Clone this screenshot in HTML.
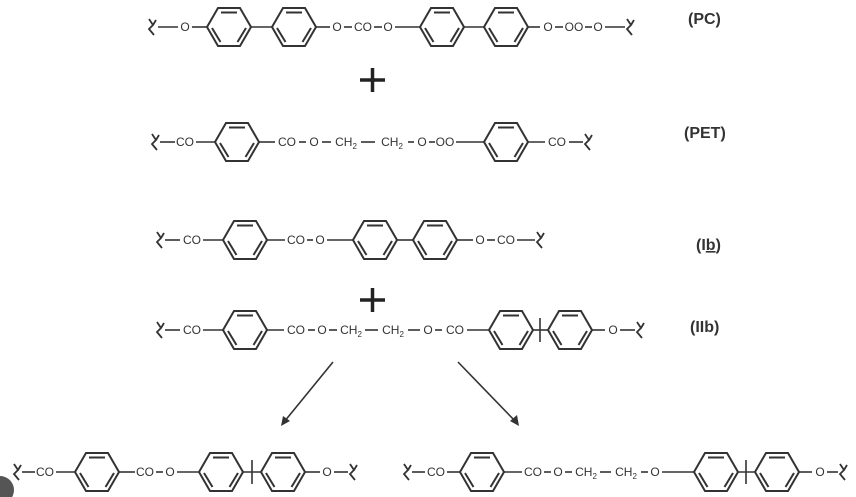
<!DOCTYPE html>
<html><head><meta charset="utf-8"><style>
html,body{margin:0;padding:0;background:#fff;}
svg{display:block;}
text{font-family:"Liberation Sans",sans-serif;fill:#333;}
.t{font-size:12px;text-anchor:middle;}
.l{font-size:16px;font-weight:bold;}
</style></head><body>
<svg width="856" height="497" viewBox="0 0 856 497" xmlns="http://www.w3.org/2000/svg">
<defs>
<g id="r" fill="none" stroke="#333" stroke-width="2">
<polygon points="-22,0 -11,-19 11,-19 22,0 11,19 -11,19"/>
<line x1="-8" y1="-14.5" x2="8" y2="-14.5"/>
<line x1="-17" y1="1" x2="-8.5" y2="15"/>
<line x1="17" y1="1" x2="8.5" y2="15"/>
</g>
<path id="s" d="M-3,-8 L1,-2 L-3,2 L2,8 M1,-2 L4,-7" fill="none" stroke="#333" stroke-width="1.8"/>
</defs>
<g stroke="#333" stroke-width="1.6">
<!-- PC y=27 -->
<line x1="158" y1="27" x2="178" y2="27"/><line x1="192" y1="27" x2="207" y2="27"/>
<line x1="251" y1="27" x2="273" y2="27"/><line x1="315" y1="27" x2="330" y2="27"/>
<line x1="344" y1="27" x2="352" y2="27"/><line x1="374" y1="27" x2="382" y2="27"/>
<line x1="395" y1="27" x2="420" y2="27"/><line x1="464" y1="27" x2="484" y2="27"/>
<line x1="528" y1="27" x2="540" y2="27"/><line x1="555" y1="27" x2="563" y2="27"/>
<line x1="585" y1="27" x2="592" y2="27"/><line x1="605" y1="27" x2="625" y2="27"/>
<!-- PET y=142 -->
<line x1="160" y1="142" x2="175" y2="142"/><line x1="196" y1="142" x2="215" y2="142"/>
<line x1="259" y1="142" x2="275" y2="142"/><line x1="299" y1="142" x2="306" y2="142"/>
<line x1="322" y1="142" x2="331" y2="142"/><line x1="361" y1="142" x2="375" y2="142"/>
<line x1="408" y1="142" x2="414" y2="142"/><line x1="429" y1="142" x2="435" y2="142"/>
<line x1="456" y1="142" x2="484" y2="142"/><line x1="528" y1="142" x2="545" y2="142"/>
<line x1="569" y1="142" x2="583" y2="142"/>
<!-- Ib y=240 -->
<line x1="165" y1="240" x2="180" y2="240"/><line x1="203" y1="240" x2="223" y2="240"/>
<line x1="267" y1="240" x2="285" y2="240"/><line x1="307" y1="240" x2="313" y2="240"/>
<line x1="327" y1="240" x2="353" y2="240"/><line x1="397" y1="240" x2="413" y2="240"/>
<line x1="457" y1="240" x2="473" y2="240"/><line x1="487" y1="240" x2="495" y2="240"/>
<line x1="517" y1="240" x2="535" y2="240"/>
<!-- IIb y=330 -->
<line x1="165" y1="330" x2="180" y2="330"/><line x1="203" y1="330" x2="223" y2="330"/>
<line x1="267" y1="330" x2="284" y2="330"/><line x1="308" y1="330" x2="315" y2="330"/>
<line x1="329" y1="330" x2="337" y2="330"/><line x1="365" y1="330" x2="378" y2="330"/>
<line x1="408" y1="330" x2="420" y2="330"/><line x1="435" y1="330" x2="442" y2="330"/>
<line x1="467" y1="330" x2="489" y2="330"/><line x1="533" y1="330" x2="548" y2="330"/>
<line x1="540" y1="318" x2="540" y2="342"/>
<line x1="592" y1="330" x2="605" y2="330"/><line x1="620" y1="330" x2="635" y2="330"/>
<!-- bottom left y=472 -->
<line x1="22" y1="472" x2="35" y2="472"/><line x1="56" y1="472" x2="75" y2="472"/>
<line x1="119" y1="472" x2="135" y2="472"/><line x1="156" y1="472" x2="163" y2="472"/>
<line x1="177" y1="472" x2="199" y2="472"/><line x1="243" y1="472" x2="261" y2="472"/>
<line x1="252" y1="460" x2="252" y2="484"/>
<line x1="305" y1="472" x2="320" y2="472"/><line x1="334" y1="472" x2="348" y2="472"/>
<!-- bottom right -->
<line x1="412" y1="472" x2="425" y2="472"/><line x1="447" y1="472" x2="460" y2="472"/>
<line x1="504" y1="472" x2="522" y2="472"/><line x1="544" y1="472" x2="551" y2="472"/>
<line x1="565" y1="472" x2="572" y2="472"/><line x1="600" y1="472" x2="611" y2="472"/>
<line x1="641" y1="472" x2="648" y2="472"/><line x1="662" y1="472" x2="694" y2="472"/>
<line x1="738" y1="472" x2="755" y2="472"/><line x1="746" y1="460" x2="746" y2="484"/>
<line x1="799" y1="472" x2="812" y2="472"/><line x1="827" y1="472" x2="838" y2="472"/>
<!-- arrows -->
<line x1="333" y1="362" x2="284" y2="422"/>
<line x1="458" y1="362" x2="516" y2="422"/>
</g>
<polygon points="281,426 283,416 290,421" fill="#333"/>
<polygon points="519,426 510,421 517,415" fill="#333"/>
<!-- rings -->
<use href="#r" x="229" y="27"/><use href="#r" x="294" y="27"/>
<use href="#r" x="442" y="27"/><use href="#r" x="506" y="27"/>
<use href="#r" x="237" y="142"/><use href="#r" x="506" y="142"/>
<use href="#r" x="245" y="240"/><use href="#r" x="375" y="240"/><use href="#r" x="435" y="240"/>
<use href="#r" x="245" y="330"/><use href="#r" x="511" y="330"/><use href="#r" x="570" y="330"/>
<use href="#r" x="97" y="472"/><use href="#r" x="221" y="472"/><use href="#r" x="283" y="472"/>
<use href="#r" x="482" y="472"/><use href="#r" x="716" y="472"/><use href="#r" x="777" y="472"/>
<!-- squiggles -->
<use href="#s" x="152" y="27"/><use href="#s" x="630" y="27"/>
<use href="#s" x="155" y="142"/><use href="#s" x="588" y="142"/>
<use href="#s" x="160" y="240"/><use href="#s" x="540" y="240"/>
<use href="#s" x="160" y="330"/><use href="#s" x="640" y="330"/>
<use href="#s" x="17" y="472"/><use href="#s" x="353" y="472"/>
<use href="#s" x="407" y="472"/><use href="#s" x="843" y="472"/>
<!-- texts -->
<g class="t">
<text x="185" y="31">O</text><text x="337" y="31">O</text><text x="363" y="31">CO</text>
<text x="388" y="31">O</text><text x="548" y="31">O</text><text x="574" y="31">OO</text><text x="598" y="31">O</text>
<text x="185" y="146">CO</text><text x="287" y="146">CO</text><text x="314" y="146">O</text>
<text x="346" y="146">CH<tspan font-size="8" dy="3">2</tspan></text>
<text x="392" y="146">CH<tspan font-size="8" dy="3">2</tspan></text>
<text x="422" y="146">O</text><text x="445" y="146">OO</text><text x="557" y="146">CO</text>
<text x="192" y="244">CO</text><text x="296" y="244">CO</text><text x="320" y="244">O</text>
<text x="480" y="244">O</text><text x="506" y="244">CO</text>
<text x="192" y="334">CO</text><text x="296" y="334">CO</text><text x="322" y="334">O</text>
<text x="351" y="334">CH<tspan font-size="8" dy="3">2</tspan></text>
<text x="393" y="334">CH<tspan font-size="8" dy="3">2</tspan></text>
<text x="428" y="334">O</text><text x="455" y="334">CO</text><text x="613" y="334">O</text>
<text x="45" y="476">CO</text><text x="145" y="476">CO</text><text x="170" y="476">O</text><text x="327" y="476">O</text>
<text x="436" y="476">CO</text><text x="533" y="476">CO</text><text x="558" y="476">O</text>
<text x="586" y="476">CH<tspan font-size="8" dy="3">2</tspan></text>
<text x="626" y="476">CH<tspan font-size="8" dy="3">2</tspan></text>
<text x="655" y="476">O</text><text x="820" y="476">O</text>
</g>
<text class="l" x="688" y="24">(PC)</text>
<text class="l" x="684" y="138">(PET)</text>
<text class="l" x="696" y="250">(I<tspan text-decoration="underline">b</tspan>)</text>
<text class="l" x="690" y="332">(IIb)</text>
<!-- plus signs -->
<g stroke="#222" stroke-width="3.5">
<line x1="360" y1="80" x2="385" y2="80"/><line x1="372.5" y1="68" x2="372.5" y2="92"/>
<line x1="360" y1="300" x2="385" y2="300"/><line x1="372.5" y1="288" x2="372.5" y2="312"/>
</g>
<circle cx="0" cy="490" r="14" fill="#555"/>
</svg>
</body></html>
